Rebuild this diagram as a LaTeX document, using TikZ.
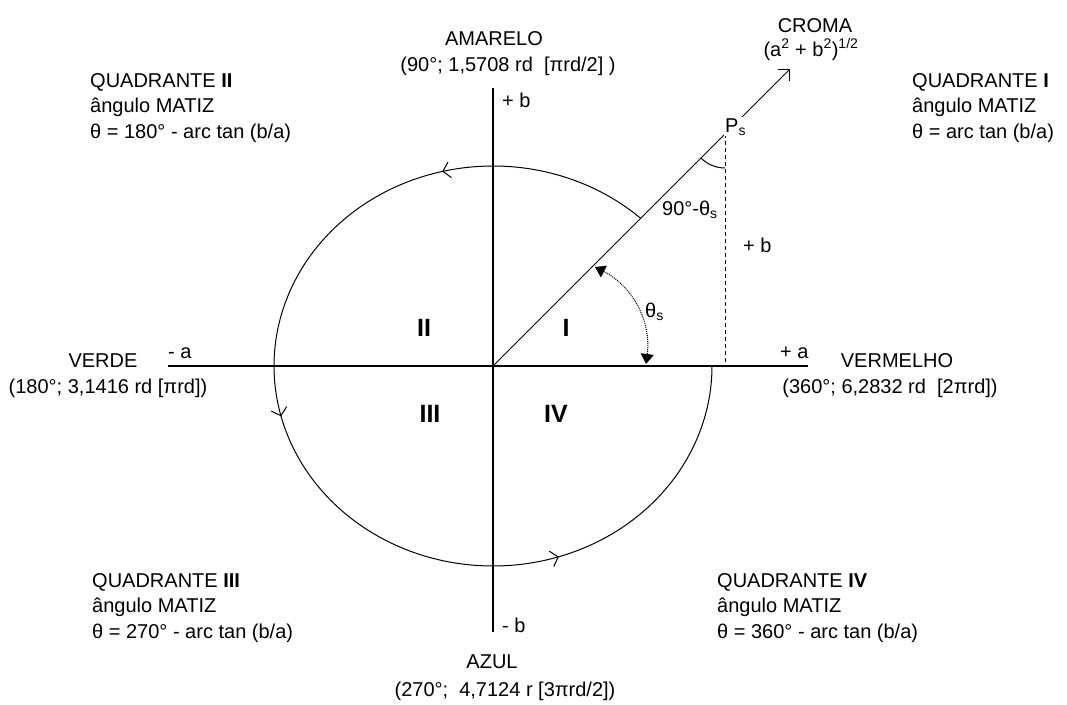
\documentclass[tikz,border=0pt]{standalone}
\usepackage{fontspec}
\setmainfont{Liberation Sans}
\usetikzlibrary{arrows.meta,decorations.markings}
\begin{document}
\begin{tikzpicture}[x=1pt,y=1pt,
  lbl/.style={inner sep=0pt, font=\fontsize{20}{24}\selectfont},
  lblw/.style={lbl, anchor=base west},
  lblc/.style={lbl, anchor=base},
  roman/.style={inner sep=0pt, font=\fontsize{25}{30}\selectfont\bfseries},
  axisline/.style={line width=1.4pt},
  thinline/.style={line width=1pt},
  barb/.style={line width=1pt},
]
\fill[white] (0,0) rectangle (1067,-704);
\useasboundingbox (0,0) rectangle (1067,-704);

% key coordinates
\coordinate (O) at (493,-366);
\coordinate (ytop) at (493,-88);
\coordinate (ybot) at (493,-632);
\coordinate (xleft) at (168,-366);
\coordinate (xright) at (808,-366);
\coordinate (Ps) at (725,-134);
\coordinate (foot) at (725,-366);
\coordinate (tip) at (790,-69);
\coordinate (A) at (595,-267);
\coordinate (B) at (646,-364);

% axes
\draw[axisline] (xleft) -- (xright);
\draw[axisline] (ytop) -- (ybot);

% hue circle with direction arrows
\draw[thinline, postaction={decorate},
  decoration={markings,
    mark=at position 211pt with {\arrow{Straight Barb[length=7pt,width=16pt,line width=1pt]}},
    mark=at position 540pt with {\arrow{Straight Barb[length=7pt,width=16pt,line width=1pt]}},
    mark=at position 885pt with {\arrow{Straight Barb[length=7pt,width=16pt,line width=1pt]}}}]
  plot[domain=47.6:360, samples=160, smooth] ({493+219*cos(\x)}, {-366+200*sin(\x)});

% chroma ray
\draw[thinline, -{Straight Barb[length=8pt,width=16pt,line width=1pt]}] (O) -- (tip);
% projection of Ps
\draw[thinline, dash pattern=on 4pt off 3pt] (Ps) -- (foot);
% angle marker at Ps
\draw[thinline] ([shift={(225:34)}]Ps) arc[start angle=225, end angle=270, radius=34];
% hue angle arrow
\draw[thinline, densely dotted, {Triangle[length=10pt,width=13pt]}-{Triangle[length=10pt,width=13pt]}] (A) to[bend left=35] (B);

% labels on the geometry
\node[lbl, fill=white, inner sep=1pt, anchor=base west] (psl) at (724,-132) {P\textsubscript{s}};
\node[lblw] (ang) at (662,-215) {90°-θ\textsubscript{s}};
\node[lblw] (ths) at (645,-317) {θ\textsubscript{s}};
\node[lblw] (pb) at (502,-107) {+ b};
\node[lblw] (pb2) at (743,-252) {+ b};
\node[lblw] (ma) at (168,-358) {- a};
\node[lblw] (pa) at (780,-358) {+ a};
\node[lblw] (mb) at (502,-632) {- b};

% quadrant numerals
\node[roman] (r2) at (424,-328) {II};
\node[roman] (r1) at (566,-328) {I};
\node[roman] (r3) at (430,-414) {III};
\node[roman] (r4) at (556,-414) {IV};

% colour labels
\node[lblc] (amarelo) at (494,-45) {AMARELO};
\node[lblc] (amarelo2) at (508,-71) {(90°; 1,5708 rd \ [πrd/2] )};
\node[lblc] (croma) at (815,-32) {CROMA};
\node[lblc] (croma2) at (811,-56) {(a\textsuperscript{2} + b\textsuperscript{2})\textsuperscript{1/2}};
\node[lblc] (verde) at (103,-367) {VERDE};
\node[lblc] (verde2) at (108,-393) {(180°; 3,1416 rd [πrd])};
\node[lblc] (vermelho) at (897,-367) {VERMELHO};
\node[lblc] (vermelho2) at (890,-393) {(360°; 6,2832 rd \ [2πrd])};
\node[lblc] (azul) at (492,-668) {AZUL};
\node[lblc] (azul2) at (505,-696) {(270°; \ 4,7124 r [3πrd/2])};

% quadrant blocks
\node[lblw] (q1a) at (912,-87) {QUADRANTE \textbf{I}};
\node[lblw] (q1b) at (912,-112.5) {ângulo MATIZ};
\node[lblw] (q1c) at (912,-138) {θ = arc tan (b/a)};

\node[lblw] (q2a) at (90,-87) {QUADRANTE \textbf{II}};
\node[lblw] (q2b) at (90,-112.5) {ângulo MATIZ};
\node[lblw] (q2c) at (90,-138) {θ = 180° - arc tan (b/a)};

\node[lblw] (q3a) at (92,-587) {QUADRANTE \textbf{III}};
\node[lblw] (q3b) at (92,-612.5) {ângulo MATIZ};
\node[lblw] (q3c) at (92,-638) {θ = 270° - arc tan (b/a)};

\node[lblw] (q4a) at (717,-587) {QUADRANTE \textbf{IV}};
\node[lblw] (q4b) at (717,-612.5) {ângulo MATIZ};
\node[lblw] (q4c) at (717,-638) {θ = 360° - arc tan (b/a)};
\end{tikzpicture}
\end{document}
